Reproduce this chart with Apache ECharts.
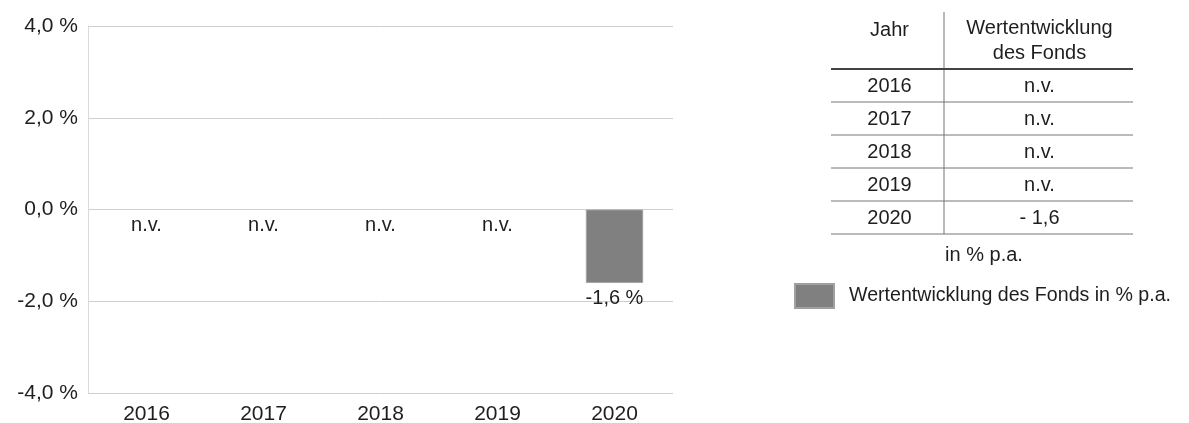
<!DOCTYPE html>
<html>
<head>
<meta charset="utf-8">
<script src="https://cdn.jsdelivr.net/npm/echarts@6/dist/echarts.min.js"></script>
<style>html,body{margin:0;padding:0;background:#fff}#c{width:1189px;height:423px}</style>
</head>
<body>
<div id="c"></div>
<script>
const years = ['2016', '2017', '2018', '2019', '2020'];
const values = [null, null, null, null, -1.6];
const yTicks = [-4, -2, 0, 2, 4];
const seriesName = 'Wertentwicklung des Fonds in % p.a.';
const tableHeader = ['Jahr', 'Wertentwicklung\ndes Fonds'];
const tableNote = 'in % p.a.';

const FONT = '"Liberation Sans", Arial, sans-serif';
const fmtAxis = v => v.toFixed(1).replace('.', ',') + ' %';
const fmtLabel = v => v.toFixed(1).replace('.', ',') + ' %';
const fmtTable = v => v == null ? 'n.v.' : (v < 0 ? '- ' : '') + Math.abs(v).toFixed(1).replace('.', ',');

const chart = echarts.init(document.getElementById('c'), null, {renderer: 'canvas'});

// table graphics
const colL = 831, colM = 944, colR = 1133;
const headerTop = 12, headerLine = 69, rowH = 33;
const TF = '20px ' + FONT;
const TC = '#1e1e1e';
const g = [];
g.push({type: 'line', shape: {x1: colM, y1: headerTop, x2: colM, y2: headerLine + rowH * years.length}, style: {stroke: '#8a8a8a', lineWidth: 1.2}});
g.push({type: 'line', shape: {x1: colL, y1: headerLine, x2: colR, y2: headerLine}, style: {stroke: '#444', lineWidth: 2}});
g.push({type: 'text', x: (colL + colM) / 2 + 2, y: 30, style: {text: tableHeader[0], font: TF, fill: TC, align: 'center', verticalAlign: 'middle'}});
g.push({type: 'text', x: (colM + colR) / 2 + 1, y: 41, style: {text: tableHeader[1], font: TF, fill: TC, align: 'center', verticalAlign: 'middle', lineHeight: 25}});
years.forEach((y, i) => {
  const lineY = headerLine + rowH * (i + 1);
  const cy = lineY - rowH / 2 + 1;
  g.push({type: 'text', x: (colL + colM) / 2 + 2, y: cy, style: {text: y, font: TF, fill: TC, align: 'center', verticalAlign: 'middle'}});
  g.push({type: 'text', x: (colM + colR) / 2 + 1, y: cy, style: {text: fmtTable(values[i]), font: TF, fill: TC, align: 'center', verticalAlign: 'middle'}});
  g.push({type: 'line', shape: {x1: colL, y1: lineY, x2: colR, y2: lineY}, style: {stroke: '#777', lineWidth: 1}});
});
g.push({type: 'text', x: 984, y: 255, style: {text: tableNote, font: TF, fill: TC, align: 'center', verticalAlign: 'middle'}});

chart.setOption({
  animation: false,
  backgroundColor: '#fff',
  textStyle: {fontFamily: FONT},
  grid: {left: 88, right: 516, top: 26, bottom: 30, containLabel: false, outerBoundsMode: 'none'},
  legend: {
    left: 789, top: 278, itemWidth: 39, itemHeight: 24, itemGap: 10,
    icon: 'rect',
    data: [seriesName],
    textStyle: {fontSize: 19.6, color: TC, fontFamily: FONT, padding: [1, 0, 0, 10]}
  },
  xAxis: {
    type: 'category', data: years,
    axisLine: {show: false}, axisTick: {show: false},
    axisLabel: {fontSize: 21, color: TC, margin: 11, fontFamily: FONT}
  },
  yAxis: {
    type: 'value', min: -4, max: 4, interval: 2,
    axisLine: {show: true, lineStyle: {color: '#d9d9d9'}},
    axisTick: {show: false},
    splitLine: {lineStyle: {color: '#cfcfcf', width: 1}},
    axisLabel: {fontSize: 21, color: TC, margin: 10, fontFamily: FONT, formatter: v => fmtAxis(v)}
  },
  series: [
    {
      name: seriesName, type: 'bar', barWidth: '49%',
      itemStyle: {color: '#808080', borderColor: '#a0a0a0', borderWidth: 1},
      data: values,
      label: {show: true, position: 'bottom', distance: 6, fontSize: 20, color: TC, fontFamily: FONT,
        formatter: p => fmtLabel(p.value)}
    },
    {
      name: 'nv', type: 'bar', barGap: '-100%', barWidth: '49%',
      itemStyle: {color: 'transparent'},
      data: values.map(v => v == null ? 0 : null),
      label: {show: true, position: 'bottom', distance: 6, fontSize: 20, color: TC, fontFamily: FONT,
        formatter: () => 'n.v.'},
      silent: true
    }
  ],
  graphic: g
});
</script>
</body>
</html>
